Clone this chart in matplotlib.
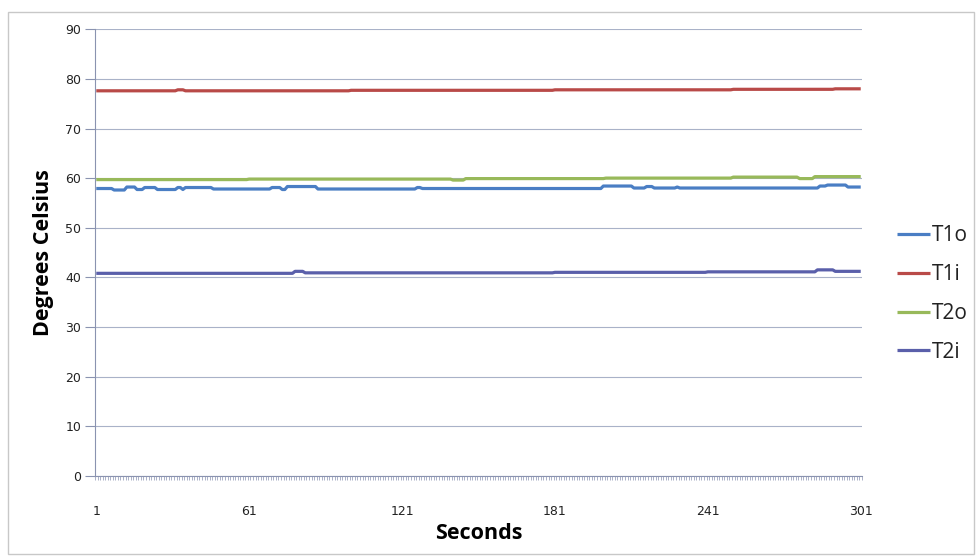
import numpy as np
import matplotlib
matplotlib.use("Agg")
import matplotlib.pyplot as plt
from matplotlib.patches import Rectangle

# values as (value, number of seconds) runs
t1o_runs = [(57.9, 7), (57.6, 5), (58.2, 4), (57.7, 3), (58.1, 5), (57.7, 8),
            (58.1, 2), (57.7, 1), (58.1, 11), (57.8, 23), (58.1, 4), (57.7, 2),
            (58.3, 12), (57.8, 39), (58.1, 2), (57.9, 71), (58.4, 12), (58.0, 5),
            (58.3, 3), (58.0, 9), (58.2, 1), (58.0, 55), (58.4, 3), (58.6, 8),
            (58.2, 6)]
t1i_runs = [(77.6, 32), (77.8, 3), (77.6, 65), (77.7, 80), (77.8, 70), (77.9, 40),
            (78.0, 11)]
t2o_runs = [(59.7, 60), (59.8, 80), (59.6, 5), (59.9, 55), (60.0, 50), (60.2, 26),
            (59.9, 6), (60.3, 19)]
t2i_runs = [(40.8, 78), (41.2, 4), (40.9, 98), (41.0, 60), (41.1, 43), (41.5, 7),
            (41.2, 11)]

series_names = ["T1o", "T1i", "T2o", "T2i"]
series_colors = ["#4a7ec4", "#b94a48", "#98b95a", "#5a5faa"]
xtick_labels = [1, 61, 121, 181, 241, 301]


def expand(runs):
    vals = []
    for v, n in runs:
        vals += [v] * n
    return np.array(vals)


seconds = np.arange(1, 302)
data = [expand(r) for r in (t1o_runs, t1i_runs, t2o_runs, t2i_runs)]

fig = plt.figure(figsize=(9.76, 5.57), dpi=100)
W, H = 976.0, 557.0
ax = fig.add_axes([95 / W, 1 - 475.7 / H, (862 - 95) / W, (475.7 - 29.3) / H])

grid_col = "#a9b2c8"
axis_col = "#8a93b0"

for vals, name, col in zip(data, series_names, series_colors):
    ax.plot(seconds, vals, color=col, lw=2.3, label=name, solid_capstyle="butt")

ax.set_xlim(0.5, 301.5)
ax.set_ylim(0, 90)
ax.set_yticks(range(0, 91, 10))
ax.yaxis.grid(True, color=grid_col, lw=0.8)
ax.set_axisbelow(True)

# category axis: a tick at each category boundary, labels every 60
ax.set_xticks(np.arange(0.5, 302, 1.0), minor=True)
ax.set_xticks(xtick_labels)
ax.set_xticklabels([str(v) for v in xtick_labels])
ax.tick_params(axis="x", which="minor", length=3, width=0.5, color=axis_col)
ax.tick_params(axis="x", which="major", length=0, pad=21, labelsize=9,
               labelcolor="#222222")
ax.tick_params(axis="y", length=7, width=0.8, color=axis_col, pad=3,
               labelsize=9, labelcolor="#222222")

for s in ["top", "right"]:
    ax.spines[s].set_visible(False)
ax.spines["left"].set_color(axis_col)
ax.spines["bottom"].set_color(axis_col)

ax.set_ylabel("Degrees Celsius", fontsize=15.5, fontweight="bold", labelpad=8,
              family="Open Sans")
ax.set_xlabel("Seconds", fontsize=15.5, fontweight="bold", labelpad=4,
              family="Open Sans")

leg = ax.legend(loc="center left", bbox_to_anchor=(897 / W, 1 - 294 / H),
                bbox_transform=fig.transFigure, frameon=False,
                prop={"family": "Open Sans", "size": 15}, handlelength=1.6,
                handletextpad=0.05, labelspacing=0.85, borderpad=0,
                borderaxespad=0)
for t in leg.get_texts():
    t.set_color("#222222")

fig.patches.append(Rectangle((8 / W, 1 - 554 / H), 966 / W, (554 - 12) / H,
                             transform=fig.transFigure, fill=False,
                             edgecolor="#c8c8c8", lw=1.0))

fig.savefig("out.png", dpi=100)
